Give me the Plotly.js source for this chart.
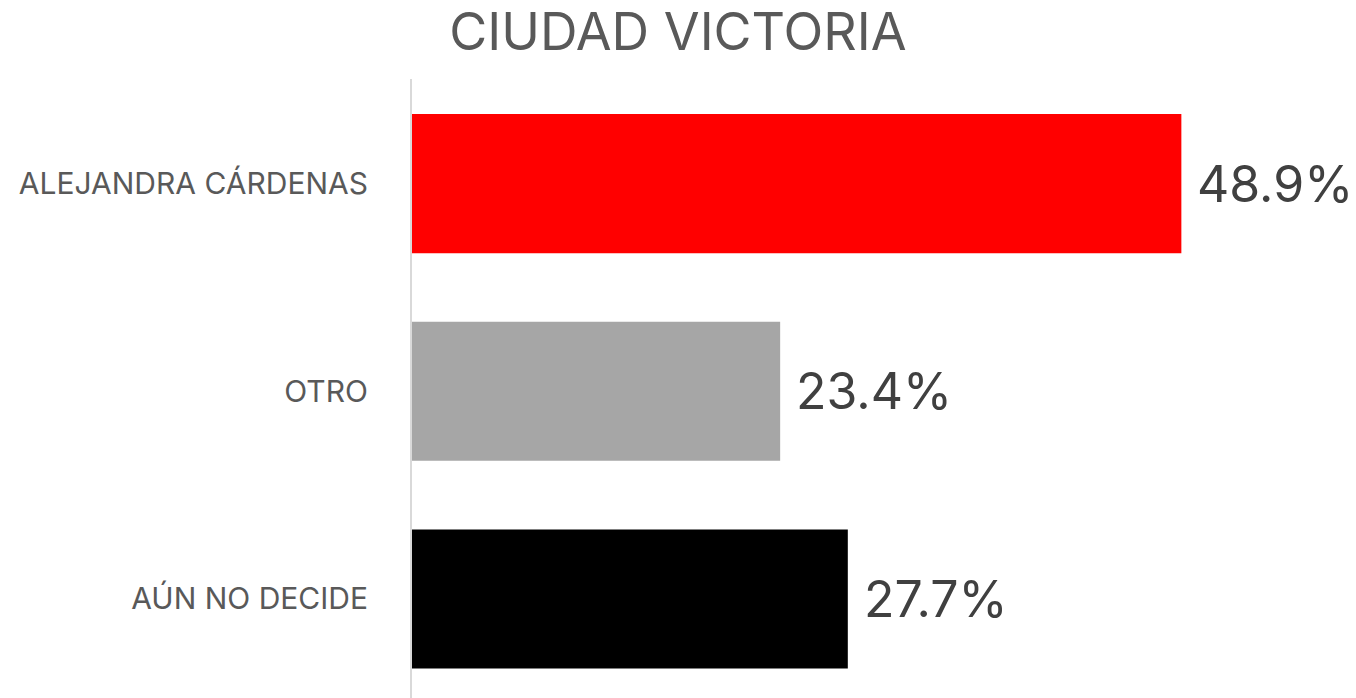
<!DOCTYPE html>
<html>
<head>
<meta charset="utf-8">
<script src="https://cdn.plot.ly/plotly-3.0.1.min.js"></script>
<style>html,body{margin:0;padding:0;background:#fff;}#chart{width:1356px;height:698px;}</style>
</head>
<body>
<div id="chart"></div>
<script>
const categories = ["ALEJANDRA CÁRDENAS", "OTRO", "AÚN NO DECIDE"];
const values = [48.9, 23.4, 27.7];
const labels = ["48.9%", "23.4%", "27.7%"];
const colors = ["#ff0000", "#a6a6a6", "#000000"];

const FONT = "Inter, 'Open Sans', sans-serif";

const trace = {
  type: "bar",
  orientation: "h",
  y: categories,
  x: values,
  marker: {color: colors},
  width: 0.67,
  hoverinfo: "none"
};

const annotations = categories.map((c, i) => ({
  x: values[i], y: c, xref: "x", yref: "y",
  text: labels[i], showarrow: false,
  xanchor: "left", yanchor: "middle", xshift: 14, yshift: 0,
  font: {family: FONT, size: 50, color: "#404040"}
}));

const layout = {
  width: 1356, height: 698,
  margin: {l: 412, r: 0, t: 79, b: 0},
  paper_bgcolor: "#ffffff", plot_bgcolor: "#ffffff",
  title: {text: "CIUDAD VICTORIA", x: 0.5, xref: "container", xanchor: "center", y: 0.955, yanchor: "middle",
          font: {family: FONT, size: 52, color: "#595959"}},
  xaxis: {range: [0, 60], visible: false, showgrid: false, zeroline: false, fixedrange: true},
  yaxis: {type: "category", range: [2.477, -0.504], showgrid: false, zeroline: false,
          showline: true, linecolor: "#d9d9d9", linewidth: 2,
          ticks: "", ticklabelstandoff: 36,
          tickfont: {family: FONT, size: 30, color: "#595959"}},
  annotations: annotations,
  showlegend: false
};

Plotly.newPlot("chart", [trace], layout, {displayModeBar: false, staticPlot: true});
</script>
</body>
</html>
